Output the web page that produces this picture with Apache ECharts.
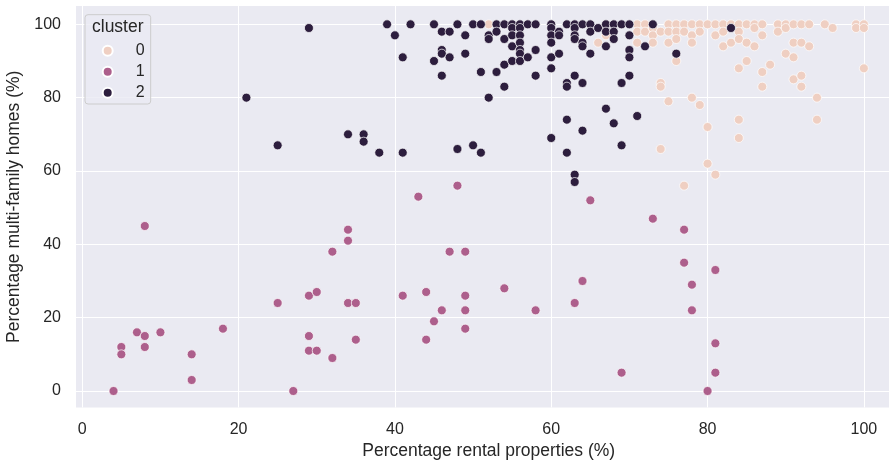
<!DOCTYPE html>
<html>
<head>
<meta charset="utf-8">
<script src="https://cdn.jsdelivr.net/npm/echarts@6/dist/echarts.min.js"></script>
<style>
  html, body { margin: 0; padding: 0; background: #fff; }
  #chart { width: 889px; height: 464px; }
</style>
</head>
<body>
<div id="chart"></div>
<script>
// cluster names (legend order)
const clusterNames = ['0', '1', '2'];
const clusterColors = ['#efcfc2', '#ad5f8c', '#2d1e3e'];

// [rental %, multi-family %]
const cluster0 = [
    [52, 100], [66, 95], [67, 97],
    [71, 100], [71, 98], [71, 95], [72, 100], [72, 98],
    [73, 99], [73, 97], [73, 95], [74, 98], [74, 84], [74, 83], [74, 66],
    [75, 100], [75, 98], [75, 95], [75, 79], [76, 100], [76, 98], [76, 96], [76, 90],
    [77, 100], [77, 98], [77, 56], [78, 100], [78, 97], [78, 95], [78, 80],
    [79, 100], [79, 98], [79, 78], [80, 100], [80, 72], [80, 62],
    [81, 100], [81, 97], [81, 59], [82, 100], [82, 98], [82, 94],
    [83, 100], [83, 95], [84, 100], [84, 98], [84, 96], [84, 88], [84, 74], [84, 69],
    [85, 100], [85, 95], [85, 90], [86, 100], [86, 99], [86, 94],
    [87, 100], [87, 97], [87, 87], [87, 83], [88, 89], [89, 100], [89, 98],
    [90, 100], [90, 99], [90, 92], [91, 100], [91, 95], [91, 91], [91, 85],
    [92, 100], [92, 95], [92, 86], [92, 83], [93, 100], [93, 94],
    [94, 80], [94, 74], [95, 100], [96, 99],
    [99, 100], [99, 99], [100, 100], [100, 99], [100, 88]
];

const cluster1 = [
    [4, 0], [5, 12], [5, 10], [7, 16], [8, 15], [8, 12], [8, 45], [10, 16],
    [14, 10], [14, 3], [18, 17], [25, 24], [27, 0], [29, 26], [29, 15], [29, 11],
    [30, 27], [30, 11], [32, 9], [32, 38], [34, 24], [34, 44], [34, 41], [35, 24], [35, 14],
    [41, 26], [43, 53], [44, 27], [44, 14], [45, 19], [46, 22], [47, 38], [48, 56],
    [49, 38], [49, 26], [49, 22], [49, 17], [54, 28], [58, 22], [63, 24], [64, 30],
    [65, 52], [69, 5], [73, 47], [77, 44], [77, 35], [78, 29], [78, 22],
    [80, 0], [81, 33], [81, 13], [81, 5]
];

const cluster2 = [
    [21, 80], [25, 67], [29, 99], [34, 70], [36, 70], [36, 68], [38, 65], [41, 65],
    [48, 66], [50, 67], [51, 65],
    [39, 100], [40, 97], [41, 91], [42, 100], [45, 100], [45, 90],
    [46, 98], [46, 93], [46, 92], [46, 86], [47, 98], [47, 91], [48, 100],
    [49, 97], [49, 92], [50, 100], [51, 100], [51, 87],
    [52, 97], [52, 96], [52, 80], [53, 100], [53, 98], [53, 87],
    [54, 100], [54, 96], [54, 89], [54, 83],
    [55, 100], [55, 99], [55, 97], [55, 94], [55, 90],
    [56, 100], [56, 99], [56, 97], [56, 95], [56, 93], [56, 92], [56, 90],
    [57, 100], [57, 91], [58, 100], [58, 93], [58, 86],
    [60, 100], [60, 99], [60, 97], [60, 95], [60, 91], [60, 88], [60, 69],
    [61, 98], [61, 97], [61, 92],
    [62, 100], [62, 84], [62, 83], [62, 74], [62, 65],
    [63, 100], [63, 99], [63, 97], [63, 96], [63, 86], [63, 59], [63, 57],
    [64, 100], [64, 95], [64, 94], [64, 84], [64, 71],
    [65, 100], [65, 98], [65, 92], [66, 99],
    [67, 100], [67, 98], [67, 94], [67, 77],
    [68, 100], [68, 98], [68, 96], [68, 73],
    [69, 100], [69, 84], [69, 67],
    [70, 100], [70, 97], [70, 93], [70, 91], [70, 86],
    [71, 75], [72, 94], [73, 100], [76, 92], [83, 99]
];

const xTicks = [0, 20, 40, 60, 80, 100];
const yTicks = [0, 20, 40, 60, 80, 100];

const chart = echarts.init(document.getElementById('chart'), null, { renderer: 'canvas' });

const font = '"Liberation Sans", Arial, sans-serif';
const textColor = '#262626';

const clusters = [cluster0, cluster1, cluster2];

const option = {
    animation: false,
    backgroundColor: '#ffffff',
    textStyle: { fontFamily: font },
    grid: {
        left: 76,
        right: -12.4,
        top: 6,
        height: 401.5,
        outerBoundsMode: 'none',
        containLabel: false,
        show: true,
        backgroundColor: '#eaeaf2',
        borderWidth: 0
    },
    title: {
        text: 'cluster',
        left: 92,
        top: 18,
        padding: 0,
        textStyle: { fontFamily: font, fontSize: 17.5, fontWeight: 'normal', color: textColor }
    },
    legend: {
        data: clusterNames,
        orient: 'vertical',
        left: 85,
        top: 14.7,
        padding: [28, 6, 3.3, 16.7],
        itemGap: 5,
        itemWidth: 10,
        itemHeight: 10,
        icon: 'circle',
        backgroundColor: 'rgba(234,234,242,0.8)',
        borderColor: '#cccccc',
        borderWidth: 1,
        borderRadius: 3,
        formatter: '{n|{name}}',
        textStyle: {
            rich: {
                n: { width: 27, align: 'right', fontSize: 16, lineHeight: 18, color: textColor, fontFamily: font }
            }
        }
    },
    xAxis: {
        type: 'value',
        min: -0.8,
        max: 104.8,
        name: 'Percentage rental properties (%)',
        nameLocation: 'middle',
        nameGap: 35,
        nameTextStyle: { fontSize: 17.5, color: textColor, fontFamily: font },
        axisLine: { show: false },
        axisTick: { show: false, customValues: xTicks },
        axisLabel: { customValues: xTicks, fontSize: 16, color: textColor, margin: 14, fontFamily: font },
        splitLine: { show: true, lineStyle: { color: '#ffffff', width: 1 } }
    },
    yAxis: {
        type: 'value',
        min: -4.5,
        max: 105,
        name: 'Percentage multi-family homes (%)',
        nameLocation: 'middle',
        nameGap: 50,
        nameTextStyle: { fontSize: 17.5, color: textColor, fontFamily: font },
        axisLine: { show: false },
        axisTick: { show: false, customValues: yTicks },
        axisLabel: { customValues: yTicks, fontSize: 16, color: textColor, margin: 15, fontFamily: font },
        splitLine: { show: true, lineStyle: { color: '#ffffff', width: 1 } }
    },
    series: clusters.map((pts, i) => ({
        name: clusterNames[i],
        type: 'scatter',
        data: pts,
        symbol: 'circle',
        symbolSize: 9,
        itemStyle: {
            color: clusterColors[i],
            borderColor: '#ffffff',
            borderWidth: 0.7,
            opacity: 1
        },
        emphasis: { disabled: true }
    }))
};

chart.setOption(option);
</script>
</body>
</html>
